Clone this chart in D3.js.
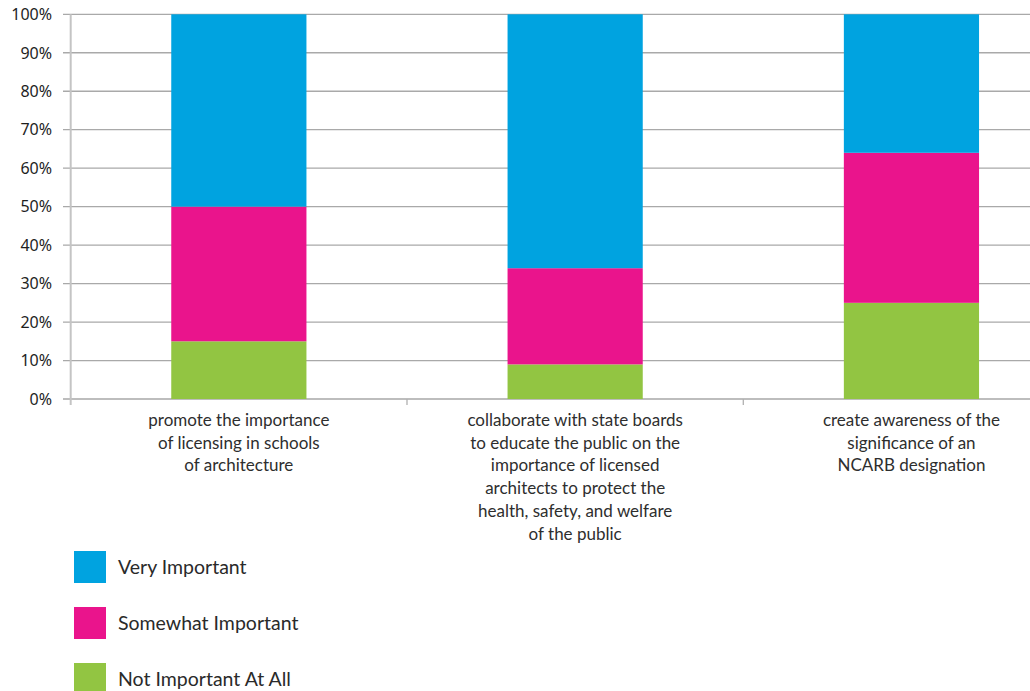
<!DOCTYPE html>
<html>
<head>
<meta charset="UTF-8">
<script src="https://d3js.org/d3.v7.min.js"></script>
<style>
  body { margin: 0; background: #fff; }
</style>
</head>
<body>
<div id="chart"></div>
<script>
// data (percent of respondents)
const categories = [
  ["promote the importance", "of licensing in schools", "of architecture"],
  ["collaborate with state boards", "to educate the public on the", "importance of licensed", "architects to protect the", "health, safety, and welfare", "of the public"],
  ["create awareness of the", "significance of an", "NCARB designation"]
];
const seriesNames = ["Not Important At All", "Somewhat Important", "Very Important"];
const notImportant = [15, 9, 25];
const somewhatImportant = [35, 25, 39];
const veryImportant = [50, 66, 36];
const yTicks = [0, 10, 20, 30, 40, 50, 60, 70, 80, 90, 100];
const colors = ["#92c542", "#ea148c", "#00a3e0"];

const W = 1030, H = 691;
const svg = d3.select('#chart').append('svg').attr('width', W).attr('height', H);

const rows = categories.map((c, i) => ({
  key: i,
  "Not Important At All": notImportant[i],
  "Somewhat Important": somewhatImportant[i],
  "Very Important": veryImportant[i]
}));

// plot area runs past the right edge, as in the source image
const x = d3.scaleBand().domain(d3.range(categories.length))
  .range([70.7, 1079.6]).paddingInner(0.598).paddingOuter(0.299);
const y = d3.scaleLinear().domain([0, 100]).range([399, 14.3]);

// gridlines
svg.append('g').selectAll('line').data(yTicks).join('line')
  .attr('x1', 63).attr('x2', W)
  .attr('y1', d => y(d)).attr('y2', d => y(d))
  .attr('stroke', d => d === 0 ? '#bdbdbd' : '#a9a9a9')
  .attr('stroke-width', d => d === 0 ? 2 : 1.3);

// left axis line
svg.append('line').attr('x1', 70.7).attr('x2', 70.7).attr('y1', y(100)).attr('y2', 405)
  .attr('stroke', '#c4c4c4').attr('stroke-width', 2);

// category ticks
const step = x.step();
svg.append('g').selectAll('line').data(d3.range(categories.length)).join('line')
  .attr('x1', d => 70.7 + (d + 1) * step).attr('x2', d => 70.7 + (d + 1) * step)
  .attr('y1', 399).attr('y2', 405)
  .attr('stroke', '#b0b0b0').attr('stroke-width', 1.3);

// y labels
svg.append('g').selectAll('text').data(yTicks).join('text')
  .attr('x', 52).attr('y', d => y(d)).attr('dy', '0.36em')
  .attr('text-anchor', 'end')
  .style('font-family', '"Noto Sans", sans-serif').style('font-size', '16px').attr('fill', '#1e1e1e')
  .text(d => d + '%');

// stacked bars
const stack = d3.stack().keys(seriesNames);
const layers = stack(rows);
svg.append('g').selectAll('g').data(layers).join('g')
  .attr('fill', (d, i) => colors[i])
  .selectAll('rect').data(d => d).join('rect')
  .attr('x', d => x(d.data.key))
  .attr('width', x.bandwidth())
  .attr('y', d => y(d[1]))
  .attr('height', d => y(d[0]) - y(d[1]));

// category labels
const lab = svg.append('g').selectAll('text').data(categories).join('text')
  .attr('text-anchor', 'middle')
  .style('font-family', 'Lato, sans-serif').style('font-size', '17px').attr('fill', '#2e2e2e');
lab.selectAll('tspan').data((d, i) => d.map(t => ({ t, i }))).join('tspan')
  .attr('x', d => x(d.i) + x.bandwidth() / 2)
  .attr('y', (d, j) => 426 + j * 22.7)
  .text(d => d.t);

// legend
const legendItems = ["Very Important", "Somewhat Important", "Not Important At All"];
const legend = svg.append('g').selectAll('g').data(legendItems).join('g')
  .attr('transform', (d, i) => `translate(74,${551 + i * 56})`);
legend.append('rect').attr('width', 32).attr('height', 32)
  .attr('fill', d => colors[seriesNames.indexOf(d)]);
legend.append('text').attr('x', 44).attr('y', 16).attr('dy', '0.36em')
  .style('font-family', 'Lato, sans-serif').style('font-size', '19.5px').attr('fill', '#2a2a2a')
  .text(d => d);
</script>
</body>
</html>
